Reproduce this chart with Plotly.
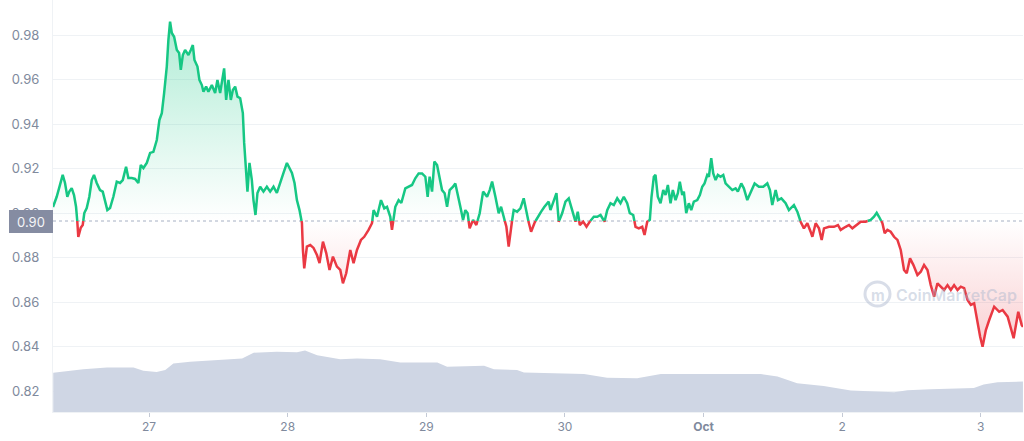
import pandas as pd
import plotly.graph_objects as go

# ---------------- data ----------------
START = pd.Timestamp("2022-09-26 00:00")   # hours below are offsets from this
BASE = 0.8964                              # reference (open) price, dotted line

HOURS = [7.36, 8.00, 8.57, 9.04, 9.44, 9.84, 10.18, 10.60, 11.00, 11.35, 11.57, 11.74, 12.16, 12.51, 12.78,
         13.20, 13.65, 14.07, 14.46, 14.93, 15.50, 15.97, 16.37, 16.77, 17.24, 17.81, 18.40, 18.97, 19.44,
         20.01, 20.41, 21.00, 21.57, 22.14, 22.56, 23.01, 23.60, 24.17, 24.74, 25.33, 25.78, 26.20, 26.60,
         27.06, 27.34, 27.63, 27.93, 28.33, 28.80, 29.20, 29.49, 29.84, 30.23, 30.81, 31.22, 31.57, 31.85,
         32.37, 32.71, 33.13, 33.41, 33.87, 34.27, 34.86, 35.43, 35.83, 36.30, 36.99, 37.34, 37.74, 38.15,
         38.50, 38.90, 39.30, 39.77, 40.23, 40.46, 40.75, 41.03, 41.38, 41.79, 42.07, 42.42, 42.76, 43.23,
         43.80, 44.39, 44.96, 45.54, 46.12, 46.70, 47.27, 47.86, 48.31, 48.73, 49.18, 49.59, 50.04, 50.46,
         50.63, 50.86, 51.32, 51.90, 52.47, 53.06, 53.51, 54.10, 54.67, 55.24, 55.83, 56.52, 57.10, 57.56,
         58.13, 58.83, 59.40, 59.99, 60.68, 61.25, 62.00, 62.59, 62.87, 63.46, 64.15, 64.72, 65.19, 65.76,
         66.05, 66.63, 67.20, 67.67, 68.36, 68.93, 69.52, 70.09, 70.67, 71.26, 71.83, 72.23, 72.57, 72.99,
         73.39, 73.86, 74.31, 74.72, 75.17, 75.59, 76.04, 76.63, 77.02, 77.42, 77.89, 78.36, 78.76, 79.15,
         79.50, 80.09, 80.66, 81.24, 81.83, 82.52, 82.97, 83.39, 83.96, 84.53, 84.94, 85.39, 85.86, 86.26,
         86.68, 87.13, 87.72, 88.29, 88.86, 89.55, 90.14, 90.71, 91.29, 91.88, 92.45, 93.19, 93.49, 94.06,
         94.53, 94.93, 95.52, 96.09, 96.66, 97.25, 97.82, 98.22, 98.57, 99.16, 99.73, 100.30, 101.00, 101.59,
         102.16, 102.85, 103.32, 103.89, 104.46, 105.05, 105.62, 106.19, 106.78, 107.23, 107.82, 108.22,
         108.79, 109.38, 109.78, 110.25, 110.70, 110.99, 111.39, 111.68, 112.08, 112.55, 113.02, 113.42,
         113.82, 114.28, 114.68, 115.15, 115.55, 115.89, 116.31, 116.59, 117.00, 117.45, 117.87, 118.32,
         118.91, 119.36, 119.77, 120.17, 120.64, 120.92, 121.33, 121.68, 122.08, 122.48, 122.94, 123.41,
         123.81, 124.38, 124.97, 125.55, 125.94, 126.53, 126.98, 127.57, 128.14, 128.84, 129.58, 130.34,
         131.04, 131.49, 131.90, 132.48, 132.88, 133.47, 134.21, 134.78, 135.65, 136.24, 136.81, 137.38,
         137.97, 138.54, 138.84, 139.41, 139.98, 140.45, 140.85, 141.71, 142.58, 143.27, 143.74, 144.61,
         145.18, 145.77, 146.51, 147.21, 148.07, 148.94, 149.51, 149.98, 150.38, 150.97, 151.36, 151.83,
         152.40, 152.98, 153.57, 154.14, 154.71, 155.18, 155.75, 156.34, 157.03, 157.61, 158.18, 158.77,
         159.34, 159.92, 160.50, 161.07, 161.65, 162.24, 162.81, 163.38, 163.97, 164.54, 165.12, 165.71,
         166.28, 166.85, 167.44, 167.89, 168.31, 168.88, 169.46, 170.32, 171.19, 171.78, 172.65, 173.22,
         173.69, 174.49, 175.08, 175.31]

PRICE = [0.9027, 0.9073, 0.9126, 0.9171, 0.9135, 0.9073, 0.9096, 0.9112, 0.9081, 0.9028, 0.8961, 0.8893,
         0.8933, 0.8946, 0.9000, 0.9022, 0.9073, 0.9148, 0.9171, 0.9135, 0.9103, 0.9096, 0.9058, 0.9013,
         0.9022, 0.9073, 0.9141, 0.9135, 0.9148, 0.9208, 0.9157, 0.9157, 0.9153, 0.9135, 0.9216, 0.9202,
         0.9225, 0.9270, 0.9275, 0.9328, 0.9418, 0.9449, 0.9539, 0.9658, 0.9778, 0.9860, 0.9809, 0.9792,
         0.9733, 0.9719, 0.9643, 0.9710, 0.9733, 0.9710, 0.9733, 0.9755, 0.9688, 0.9658, 0.9598, 0.9575,
         0.9545, 0.9568, 0.9545, 0.9575, 0.9539, 0.9598, 0.9539, 0.9650, 0.9508, 0.9598, 0.9508, 0.9553,
         0.9568, 0.9523, 0.9516, 0.9449, 0.9315, 0.9180, 0.9096, 0.9225, 0.9148, 0.9058, 0.8991, 0.9090,
         0.9118, 0.9096, 0.9118, 0.9096, 0.9118, 0.9090, 0.9141, 0.9180, 0.9225, 0.9202, 0.9180, 0.9135,
         0.9058, 0.9013, 0.8955, 0.8834, 0.8751, 0.8849, 0.8856, 0.8843, 0.8811, 0.8775, 0.8871, 0.8820,
         0.8744, 0.8804, 0.8759, 0.8744, 0.8684, 0.8729, 0.8834, 0.8774, 0.8834, 0.8879, 0.8893, 0.8924,
         0.8954, 0.9013, 0.8983, 0.9058, 0.9021, 0.9028, 0.8983, 0.8924, 0.9028, 0.9058, 0.9045, 0.9111,
         0.9118, 0.9126, 0.9156, 0.9178, 0.9178, 0.9163, 0.9073, 0.9163, 0.9096, 0.9231, 0.9216, 0.9148,
         0.9103, 0.9089, 0.9028, 0.9103, 0.9118, 0.9133, 0.9089, 0.9028, 0.8969, 0.9013, 0.8999, 0.8931,
         0.8969, 0.8946, 0.8999, 0.9096, 0.9073, 0.9103, 0.9141, 0.9073, 0.8999, 0.9028, 0.8983, 0.8938,
         0.8849, 0.8938, 0.9013, 0.9006, 0.9021, 0.9066, 0.8976, 0.8916, 0.8954, 0.8983, 0.9006, 0.9028,
         0.9051, 0.9013, 0.9051, 0.9089, 0.8961, 0.8999, 0.9051, 0.9066, 0.9013, 0.8961, 0.9006, 0.8946,
         0.8961, 0.8938, 0.8961, 0.8983, 0.8983, 0.8991, 0.8961, 0.9013, 0.9044, 0.9036, 0.9066, 0.9044,
         0.9073, 0.9044, 0.8999, 0.8991, 0.8938, 0.8931, 0.8938, 0.8901, 0.8961, 0.8969, 0.9073, 0.9163,
         0.9171, 0.9073, 0.9044, 0.9103, 0.9081, 0.9126, 0.9044, 0.9103, 0.9058, 0.9089, 0.9141, 0.9081,
         0.9096, 0.8999, 0.9044, 0.9013, 0.9051, 0.9058, 0.9081, 0.9118, 0.9133, 0.9171, 0.9163, 0.9246,
         0.9178, 0.9148, 0.9171, 0.9163, 0.9171, 0.9133, 0.9118, 0.9103, 0.9111, 0.9096, 0.9133, 0.9111,
         0.9058, 0.9089, 0.9133, 0.9118, 0.9118, 0.9133, 0.9103, 0.9036, 0.9103, 0.9058, 0.9066, 0.9044,
         0.9013, 0.9036, 0.9006, 0.8961, 0.8931, 0.8954, 0.8916, 0.8893, 0.8954, 0.8931, 0.8879, 0.8931,
         0.8938, 0.8938, 0.8946, 0.8924, 0.8938, 0.8946, 0.8931, 0.8946, 0.8961, 0.8961, 0.8969, 0.8983,
         0.9001, 0.8983, 0.8954, 0.8909, 0.8924, 0.8916, 0.8893, 0.8879, 0.8834, 0.8744, 0.8729, 0.8796,
         0.8766, 0.8721, 0.8736, 0.8766, 0.8744, 0.8676, 0.8624, 0.8684, 0.8669, 0.8654, 0.8676, 0.8654,
         0.8676, 0.8654, 0.8669, 0.8662, 0.8609, 0.8587, 0.8594, 0.8504, 0.8444, 0.8399, 0.8474, 0.8519,
         0.8579, 0.8556, 0.8564, 0.8534, 0.8474, 0.8437, 0.8556, 0.8497, 0.8488]

VOL_HOURS = [7.4, 12.6, 16.7, 21.3, 23.0, 25.3, 26.8, 28.2, 31.1, 36.9, 40.1, 42.1, 46.1, 49.6, 51.0, 53.1,
             57.1, 60.0, 64.0, 67.5, 73.9, 75.6, 82.0, 83.7, 87.7, 88.9, 91.8, 96.4, 99.3, 103.3, 108.5,
             112.6, 116.6, 122.4, 129.9, 132.8, 136.2, 140.8, 145.5, 153.0, 155.3, 159.3, 166.8, 168.5,
             170.9, 175.3]
VOLUME = [95, 104, 108, 108, 100, 97, 102, 118, 122, 126, 130, 144, 146, 145, 149, 138,
          128, 130, 128, 120, 120, 110, 112, 104, 102, 96, 95, 94, 92, 83, 82,
          92, 92, 92, 92, 86, 70, 63, 52, 48, 53, 55, 58, 67,
          72, 74]   # 24h volume, millions (relative)

TICK_DATES = ["2022-09-27", "2022-09-28", "2022-09-29", "2022-09-30", "2022-10-01", "2022-10-02", "2022-10-03"]
TICK_TEXT = ["27", "28", "29", "30", "<b>Oct</b>", "2", "3"]
Y_TICKS = [0.82, 0.84, 0.86, 0.88, 0.90, 0.92, 0.94, 0.96, 0.98]
BASE_LABEL = "0.90"

GREEN = "#16c784"
RED = "#ea3943"

# ---------------- split series at the base price ----------------
hh, pp = [], []
for i, (h, p) in enumerate(zip(HOURS, PRICE)):
    if i > 0:
        a, b = PRICE[i - 1], p
        if (a - BASE) * (b - BASE) < 0:
            f = (BASE - a) / (b - a)
            hh.append(HOURS[i - 1] + f * (h - HOURS[i - 1]))
            pp.append(BASE)
    hh.append(h)
    pp.append(p)

tt = [START + pd.Timedelta(hours=h) for h in hh]
green = [p if p >= BASE else None for p in pp]
red = [p if p <= BASE else None for p in pp]
upper = [max(p, BASE) for p in pp]
lower = [min(p, BASE) for p in pp]
t_first, t_last = tt[0], tt[-1]
vt = [START + pd.Timedelta(hours=h) for h in VOL_HOURS]

fig = go.Figure()

# volume (secondary axis)
fig.add_trace(go.Scatter(x=vt, y=VOLUME, yaxis="y2", mode="lines", line=dict(width=0, color="#cfd6e4"),
                         fill="tozeroy", fillcolor="#cfd6e4", hoverinfo="skip"))

# green gradient fill above base
fig.add_trace(go.Scatter(x=[t_first, t_last], y=[BASE, BASE], mode="lines", line=dict(width=0),
                         hoverinfo="skip"))
fig.add_trace(go.Scatter(x=tt, y=upper, mode="lines", line=dict(width=0), fill="tonexty",
                         fillgradient=dict(type="vertical", start=BASE, stop=max(PRICE),
                                           colorscale=[[0, "rgba(22,199,132,0.0)"], [1, "rgba(22,199,132,0.34)"]]),
                         hoverinfo="skip"))
# red gradient fill below base
fig.add_trace(go.Scatter(x=[t_first, t_last], y=[BASE, BASE], mode="lines", line=dict(width=0),
                         hoverinfo="skip"))
fig.add_trace(go.Scatter(x=tt, y=lower, mode="lines", line=dict(width=0), fill="tonexty",
                         fillgradient=dict(type="vertical", start=min(PRICE), stop=BASE,
                                           colorscale=[[0, "rgba(234,57,67,0.24)"], [1, "rgba(234,57,67,0.0)"]]),
                         hoverinfo="skip"))

# price lines
fig.add_trace(go.Scatter(x=tt, y=green, mode="lines", line=dict(color=GREEN, width=2.5), connectgaps=False))
fig.add_trace(go.Scatter(x=tt, y=red, mode="lines", line=dict(color=RED, width=2.5), connectgaps=False))

PLOT_L, PLOT_R, PLOT_T, PLOT_B = 53, 1023, 0, 412


def px(x):
    return (x - PLOT_L) / (PLOT_R - PLOT_L)


def py(y):
    return 1 - (y - PLOT_T) / (PLOT_B - PLOT_T)


fig.update_layout(
    width=1024, height=441,
    margin=dict(l=PLOT_L, r=1024 - PLOT_R, t=PLOT_T, b=441 - PLOT_B),
    plot_bgcolor="white", paper_bgcolor="white",
    showlegend=False,
    font=dict(family="Inter, Roboto, sans-serif", color="#808a9d"),
    xaxis=dict(
        range=[t_first, t_last],
        tickvals=TICK_DATES, ticktext=TICK_TEXT,
        ticks="outside", ticklen=4, tickcolor="#c4cad6", tickwidth=1,
        showgrid=False, zeroline=False,
        showline=True, linecolor="#eff2f5", linewidth=1,
        tickfont=dict(size=12, color="#808a9d"),
    ),
    yaxis=dict(
        range=[0.81056, 0.99573],
        tickvals=Y_TICKS, ticktext=[f"{v:.2f}" for v in Y_TICKS],
        showgrid=True, gridcolor="#eff2f5", gridwidth=1,
        zeroline=False, showline=True, linecolor="#eff2f5",
        ticks="", ticklabelstandoff=10,
        tickfont=dict(size=13, color="#808a9d"),
    ),
    yaxis2=dict(overlaying="y", range=[0, 1000], visible=False),
    shapes=[
        dict(type="line", xref="paper", x0=0, x1=1, yref="y", y0=BASE, y1=BASE,
             line=dict(color="#a6b0c3", width=1, dash="dot"), layer="below"),
        # watermark logo
        dict(type="circle", xref="paper", yref="paper",
             x0=px(865), x1=px(890), y0=py(306), y1=py(282),
             line=dict(color="rgba(168,180,204,0.45)", width=3)),
    ],
    annotations=[
        dict(text=BASE_LABEL, xref="paper", x=0, xanchor="right", yref="y", y=BASE, yanchor="middle",
             showarrow=False, bgcolor="#858ca2", font=dict(size=13, color="#f4f5f7"),
             width=38, height=17, borderpad=3, borderwidth=0),
        dict(text="CoinMarketCap", xref="paper", yref="paper", x=px(894), y=py(295),
             xanchor="left", yanchor="middle", showarrow=False,
             font=dict(size=16, color="rgba(168,180,204,0.45)", family="Inter", weight=600)),
        dict(text="m", xref="paper", yref="paper", x=px(877.5), y=py(295),
             xanchor="center", yanchor="middle", showarrow=False,
             font=dict(size=15, color="rgba(168,180,204,0.45)", family="Inter", weight=700)),
    ],
)

fig.write_html("out.html")
